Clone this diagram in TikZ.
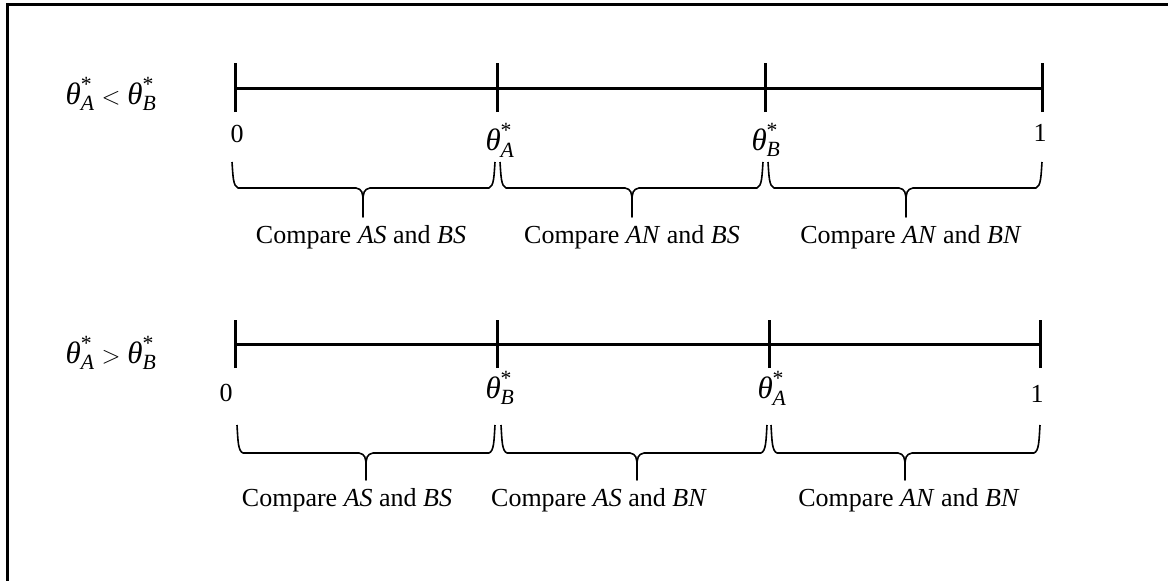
\documentclass[tikz,border=0pt]{standalone}
\usepackage{amsmath}
\usepackage{fontspec}
\setmainfont{Liberation Serif}
\newcommand\thst[1]{\text{\itshape θ}^{\text{*}}_{\text{\itshape #1}}}
\newcommand\cbrace[6]{% x1, xm, x2, ytop, ymid, ytip
  \draw[brc] (#1,#4) .. controls (#1+1,#5-12) and (#1+1,#5-2) .. (#1+6,#5)
    -- (#2-7,#5) .. controls (#2-1,#5+1) and (#2,#5+5) .. (#2,#5+13)
    -- (#2,#6) -- (#2,#5+13) .. controls (#2,#5+5) and (#2+1,#5+1) .. (#2+7,#5)
    -- (#3-6,#5) .. controls (#3-1,#5-2) and (#3-1,#5-12) .. (#3,#4);}
\begin{document}
\begin{tikzpicture}[x=1pt,y=-1pt,
  tl/.style={line width=3pt},
  tk/.style={line width=3pt},
  brc/.style={line width=1.6pt,line join=round},
  lbl/.style={inner sep=0pt,font=\fontsize{26}{30}\selectfont},
  mlbl/.style={inner sep=0pt,font=\fontsize{31}{36}\selectfont},
  frame/.style={line width=3pt}]
\useasboundingbox (0,0) rectangle (1168,581);
\clip (0,0) rectangle (1168,581);
\draw[frame] (7.5,600) -- (7.5,4.5) -- (1190,4.5);

% ---- top row ----
\coordinate (a0) at (235,88);
\coordinate (a1) at (497,88);
\coordinate (a2) at (765,88);
\coordinate (a3) at (1042,88);
\draw[tl] (a0) -- (a3);
\foreach \p in {a0,a1,a2,a3} \draw[tk] ([yshift=-24pt]\p) -- ([yshift=25pt]\p);
\node[mlbl] (l1) at (111,94) {$\thst{A} < \thst{B}$};
\node[lbl] (z1) at (237,134) {0};
\node[mlbl] (ta1) at (500,140) {$\thst{A}$};
\node[mlbl] (tb1) at (766,140) {$\thst{B}$};
\node[lbl] (o1) at (1040,133) {1};
\cbrace{232}{363}{495}{162}{188}{217}
\cbrace{500}{632}{763}{162}{188}{217}
\cbrace{768}{906}{1042}{162}{188}{217}
\node[lbl] (c11) at (361,237) {Compare \textit{AS} and \textit{BS}};
\node[lbl] (c12) at (632,237) {Compare \textit{AN} and \textit{BS}};
\node[lbl] (c13) at (911,237) {Compare \textit{AN} and \textit{BN}};

% ---- bottom row ----
\coordinate (b0) at (235,344);
\coordinate (b1) at (497,344);
\coordinate (b2) at (769,344);
\coordinate (b3) at (1040,344);
\draw[tl] (b0) -- (b3);
\foreach \p in {b0,b1,b2,b3} \draw[tk] ([yshift=-24pt]\p) -- ([yshift=24pt]\p);
\node[mlbl] (l2) at (111,353) {$\thst{A} > \thst{B}$};
\node[lbl] (z2) at (226,393) {0};
\node[mlbl] (tb2) at (500,388) {$\thst{B}$};
\node[mlbl] (ta2) at (772,388) {$\thst{A}$};
\node[lbl] (o2) at (1037,394) {1};
\cbrace{237}{366}{495}{425}{453}{480}
\cbrace{501}{637}{767}{425}{453}{480}
\cbrace{771}{905}{1040}{425}{453}{480}
\node[lbl] (c21) at (347,500) {Compare \textit{AS} and \textit{BS}};
\node[lbl] (c22) at (599,500) {Compare \textit{AS} and \textit{BN}};
\node[lbl] (c23) at (909,500) {Compare \textit{AN} and \textit{BN}};
\end{tikzpicture}
\end{document}
